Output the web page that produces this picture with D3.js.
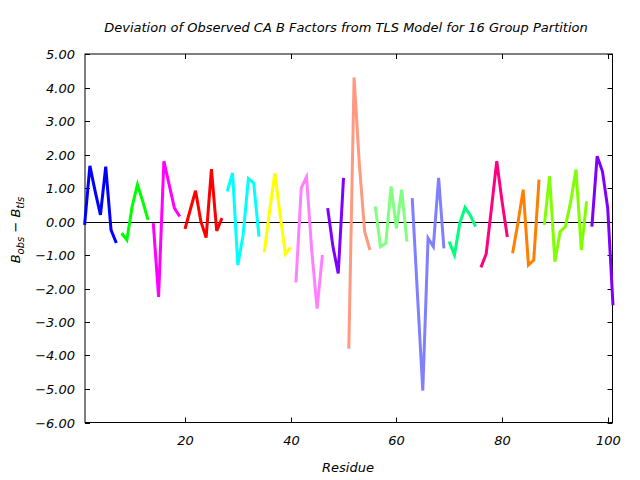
<!DOCTYPE html>
<html><head><meta charset="utf-8">
<script src="https://cdn.jsdelivr.net/npm/d3@7"></script>
<style>
body{margin:0;background:#fff;}
text{font-family:"DejaVu Sans",sans-serif;font-style:italic;fill:#000;}
</style></head>
<body><svg id="c" width="640" height="480"></svg>
<script>
// TLS group partition: first residue, colour and deviation values per group
const groupStart = [1, 8, 14, 20, 28, 35, 41, 47, 51, 56, 63, 70, 76, 82, 88, 97];
const groupColors = ["#0000ff","#00ff00","#ff00ff","#ff0000","#00ffff","#ffff00","#ff80ff","#8000ff",
                     "#ff9980","#80ff80","#8080ff","#00ff80","#ff0080","#ff8000","#80ff00","#8000ff"];
const g01 = [-0.1, 1.66, 0.9, 0.2, 1.64, -0.25, -0.64];
const g02 = [-0.35, -0.55, 0.45, 1.1, 0.6, 0.05];
const g03 = [-0.05, -2.25, 1.8, 1.1, 0.4, 0.15];
const g04 = [-0.22, 0.35, 0.92, 0.0, -0.48, 1.56, -0.28, 0.1];
const g05 = [0.9, 1.45, -1.3, -0.4, 1.28, 1.15, -0.45];
const g06 = [-0.92, 0.3, 1.44, 0.2, -0.97, -0.77];
const g07 = [-1.82, 1.0, 1.33, -0.9, -2.6, -1.0];
const g08 = [0.4, -0.75, -1.55, 1.3];
const g09 = [-3.8, 4.3, 1.7, -0.3, -0.85];
const g10 = [0.45, -0.75, -0.65, 1.05, -0.2, 0.95, -0.6];
const g11 = [0.7, -2.2, -5.05, -0.5, -0.75, 1.3, -0.8];
const g12 = [-0.6, -1.0, -0.05, 0.42, 0.18, -0.15];
const g13 = [-1.37, -0.97, 0.4, 1.8, 0.6, -0.46];
const g14 = [-0.95, -0.05, 0.95, -1.3, -1.15, 1.25];
const g15 = [-0.1, 1.35, -1.2, -0.3, -0.15, 0.6, 1.55, -0.85, 0.6];
const g16 = [-0.15, 1.95, 1.5, 0.4, -2.5];
const groupValues = [g01,g02,g03,g04,g05,g06,g07,g08,g09,g10,g11,g12,g13,g14,g15,g16];
const xTicks = [20, 40, 60, 80, 100];
const yTicks = [5, 4, 3, 2, 1, 0, -1, -2, -3, -4, -5, -6];

const svg = d3.select("#c");
const L = 85, R = 612.5, T = 54, B = 422.5;
const x = d3.scaleLinear().domain([1, 101]).range([84.6, 613]);
const y = d3.scaleLinear().domain([-6, 5]).range([B, T]);

// title
svg.append("text").attr("x", 346).attr("y", 32).attr("text-anchor", "middle")
  .attr("font-size", 13).text("Deviation of Observed CA B Factors from TLS Model for 16 Group Partition");

// frame
svg.append("rect").attr("x", L).attr("y", T).attr("width", R - L).attr("height", B - T)
  .attr("fill", "none").attr("stroke", "#000").attr("stroke-width", 1);

const tk = 5;
const fmt = d3.format(".2f");
// left axis & mirrored right ticks
const ya = svg.append("g");
yTicks.forEach(v => {
  const yy = Math.round(y(v)) + 0.5;
  ya.append("line").attr("x1", L).attr("x2", L + tk).attr("y1", yy).attr("y2", yy).attr("stroke", "#000");
  ya.append("line").attr("x1", R - tk).attr("x2", R).attr("y1", yy).attr("y2", yy).attr("stroke", "#000");
  ya.append("text").attr("x", 75).attr("y", yy).attr("dy", "0.36em").attr("text-anchor", "end")
    .attr("font-size", 13).text(fmt(v).replace("-", "\u2212"));
});
// bottom axis & mirrored top ticks
const xa = svg.append("g");
xTicks.forEach(v => {
  const xx = Math.round(x(v)) + 0.5;
  xa.append("line").attr("x1", xx).attr("x2", xx).attr("y1", B).attr("y2", B - tk).attr("stroke", "#000");
  xa.append("line").attr("x1", xx).attr("x2", xx).attr("y1", T).attr("y2", T + tk).attr("stroke", "#000");
  xa.append("text").attr("x", xx).attr("y", 445).attr("text-anchor", "middle")
    .attr("font-size", 13).text(v);
});

// zero line
svg.append("line").attr("x1", L).attr("x2", R).attr("y1", Math.round(y(0)) + 0.5).attr("y2", Math.round(y(0)) + 0.5)
  .attr("stroke", "#000").attr("stroke-width", 1);

// data lines
const line = d3.line().x(d => x(d[0])).y(d => y(d[1]));
groupValues.forEach((vals, i) => {
  const pts = vals.map((v, j) => [groupStart[i] + j, v]);
  svg.append("path").datum(pts).attr("d", line).attr("fill", "none")
    .attr("stroke", groupColors[i]).attr("stroke-width", 3).attr("stroke-linejoin", "miter");
});

// axis labels
svg.append("text").attr("x", 348).attr("y", 472).attr("text-anchor", "middle")
  .attr("font-size", 13).text("Residue");
const yl = svg.append("text").attr("transform", "translate(20,230) rotate(-90)")
  .attr("text-anchor", "middle").attr("font-size", 13);
yl.append("tspan").text("B");
yl.append("tspan").attr("font-size", 10).attr("dy", 4).text("obs");
yl.append("tspan").attr("dy", -4).text(" \u2212 B");
yl.append("tspan").attr("font-size", 10).attr("dy", 4).text("tls");
</script></body></html>
